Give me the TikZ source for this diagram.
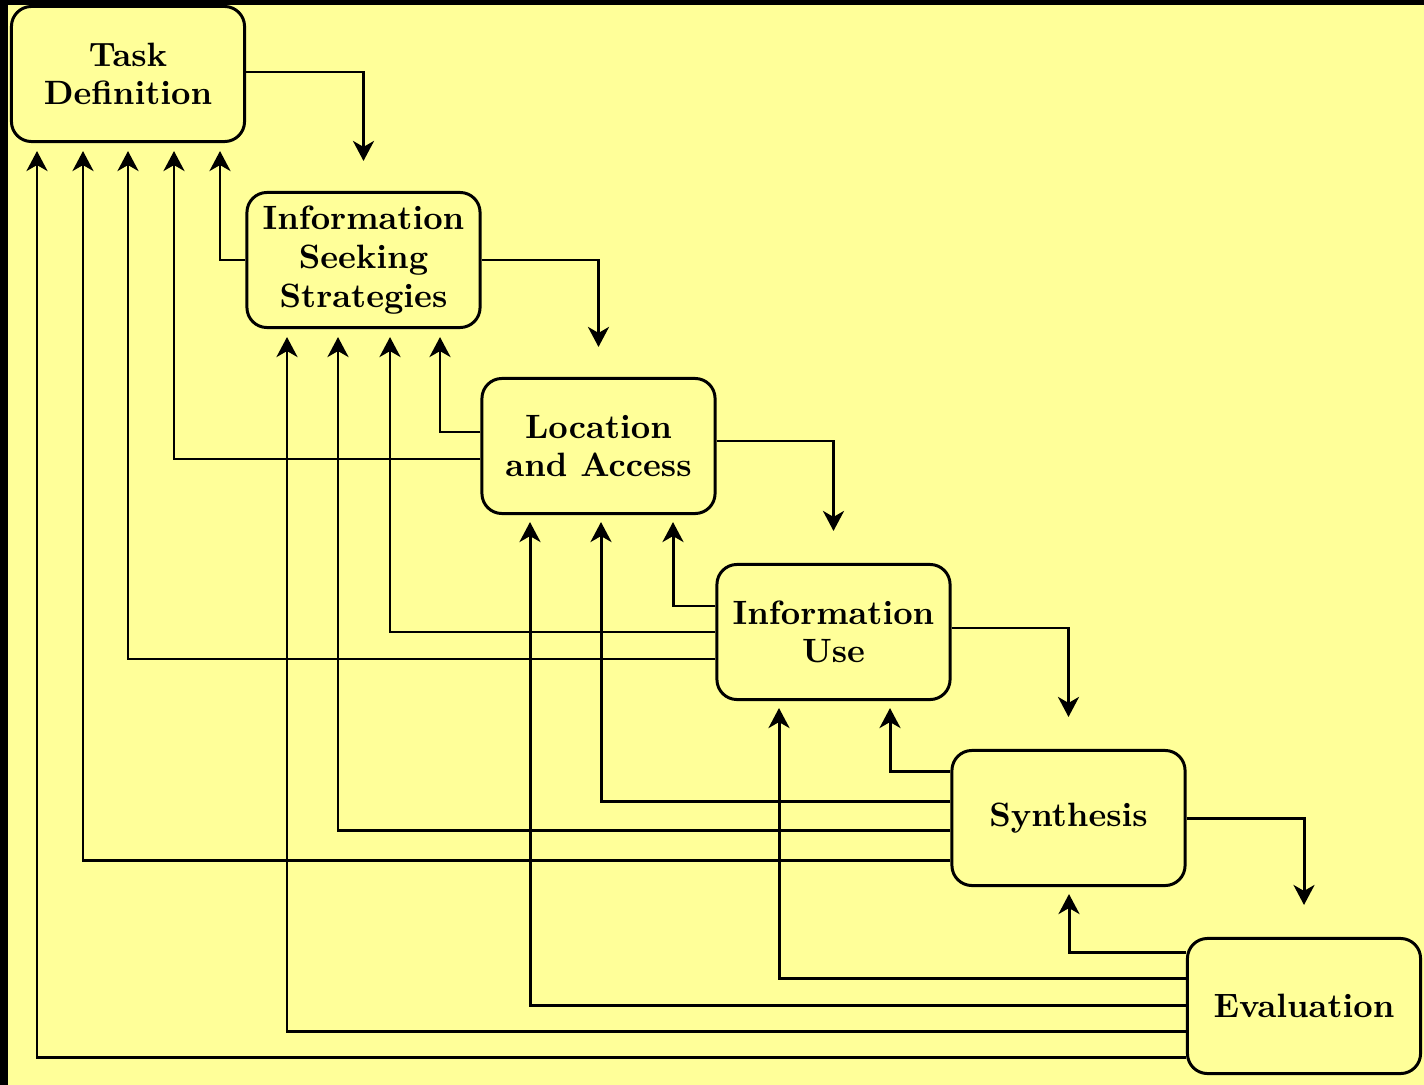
\documentclass[tikz,border=0pt]{standalone}
\usetikzlibrary{arrows.meta,calc}
\definecolor{pad}{RGB}{255,255,153}
\begin{document}
\begin{tikzpicture}[x=0.01cm,y=-0.01cm]
    \tikzset{stage/.style = {shape=rectangle,draw,rounded corners=0.2cm,line width=0.85pt,fill=pad,
        minimum width=2.33cm,minimum height=1.35cm,align=center,
        font=\fontsize{9.6}{11}\selectfont\bfseries}}
    \tikzset{edge/.style = {-{Stealth[length=2mm,width=2.1mm,inset=0.6mm]},line width=0.85pt}}
    \fill[black] (0,0) rectangle (1424,1085);
    \fill[pad] (8,5) rectangle (1424,1085);
    \node[stage] (tsk) at (128,74) {Task\\Definition};
    \node[stage] (iss) at (363.5,260) {Information\\Seeking\\Strategies};
    \node[stage] (loc) at (598.5,446) {Location\\and Access};
    \node[stage] (use) at (833.5,632) {Information\\Use};
    \node[stage] (syn) at (1068.5,818) {Synthesis};
    \node[stage] (eva) at (1304,1006) {Evaluation};
    % forward steps
    \draw[edge] ($(tsk.east)+(0,-2)$) -| ($(iss.north)+(0,-30)$);
    \draw[edge] (iss.east) -| ($(loc.north)+(0,-30)$);
    \draw[edge] ($(loc.east)+(0,-5)$) -| ($(use.north)+(0,-32)$);
    \draw[edge] ($(use.east)+(0,-4)$) -| ($(syn.north)+(0,-32)$);
    \draw[edge] (syn.east) -| ($(eva.north)+(0,-32)$);
    % feedback
    \draw[edge] (iss.west) -| ($(tsk.south)+(92,8)$);
    \draw[edge] ($(loc.west)+(0,-14)$) -| ($(iss.south)+(76.5,8)$);
    \draw[edge] ($(loc.west)+(0,13)$) -| ($(tsk.south)+(46,8)$);
    \draw[edge] ($(use.west)+(0,-26)$) -| ($(loc.south)+(74.5,7)$);
    \draw[edge] (use.west) -| ($(iss.south)+(26.5,8)$);
    \draw[edge] ($(use.west)+(0,27)$) -| ($(tsk.south)+(0,8)$);
    \draw[edge] ($(syn.west)+(0,-47)$) -| ($(use.south)+(56.5,7)$);
    \draw[edge] ($(syn.west)+(0,-17)$) -| ($(loc.south)+(2.5,7)$);
    \draw[edge] ($(syn.west)+(0,12)$) -| ($(iss.south)+(-25.5,8)$);
    \draw[edge] ($(syn.west)+(0,42)$) -| ($(tsk.south)+(-45,8)$);
    \draw[edge] ($(eva.west)+(0,-54)$) -| ($(syn.south)+(0.5,7)$);
    \draw[edge] ($(eva.west)+(0,-28)$) -| ($(use.south)+(-54.5,7)$);
    \draw[edge] ($(eva.west)+(0,-1)$) -| ($(loc.south)+(-68.5,7)$);
    \draw[edge] ($(eva.west)+(0,25)$) -| ($(iss.south)+(-76.5,8)$);
    \draw[edge] ($(eva.west)+(0,51)$) -| ($(tsk.south)+(-91,8)$);
\end{tikzpicture}
\end{document}
